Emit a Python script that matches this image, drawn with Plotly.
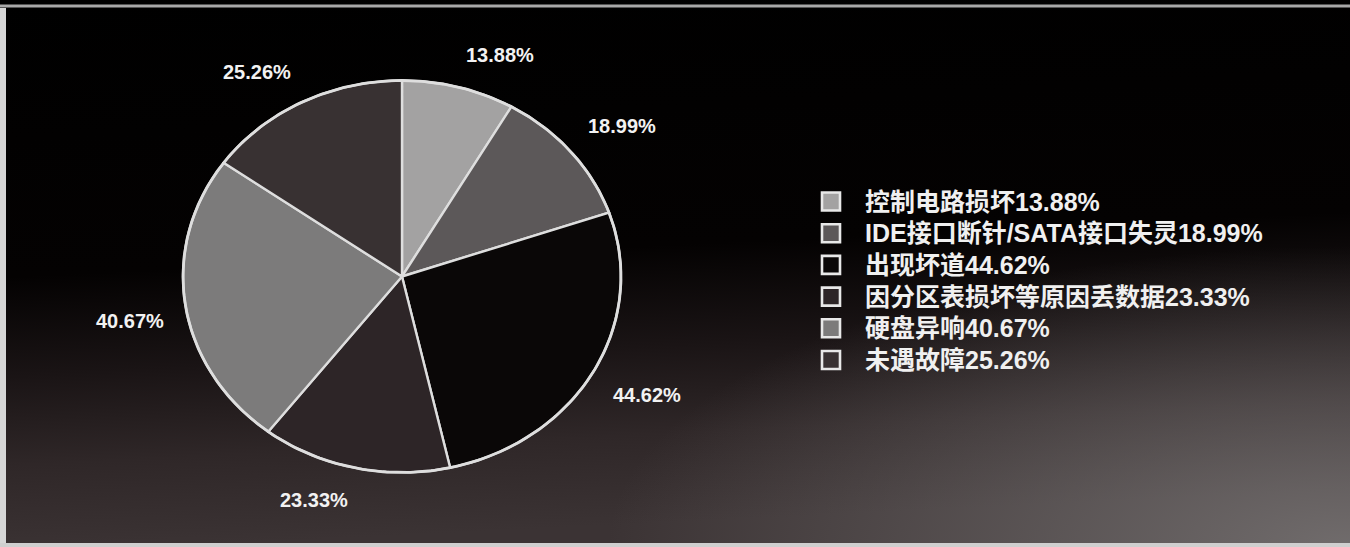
import base64
import numpy as np
import plotly.graph_objects as go

# Survey of hard-disk failure types (multiple answers, so the shares exceed 100%)
categories = ["控制电路损坏", "IDE接口断针/SATA接口失灵", "出现坏道",
              "因分区表损坏等原因丢数据", "硬盘异响", "未遇故障"]
shares = [13.88, 18.99, 44.62, 23.33, 40.67, 25.26]
slice_colors = ["#a3a2a2", "#5c5859", "#0a0707", "#2d2527", "#7c7b7b", "#383132"]

W, H = 1350, 547
CX, CY = 402, 276.5        # pie centre (px)
RX, RY = 219, 196          # slightly stretched pie
EDGE = "#dedede"
LABEL_GAP = 20

# key block on the right
KEY_X, TEXT_X = 831, 863
KEY_Y0, KEY_DY = 201.5, 31.7

LABEL_FONT = dict(family="Liberation Sans, Arial, sans-serif", size=20,
                  color="#f2f2f2", weight="bold")
KEY_FONT = dict(family="Liberation Sans, Noto Sans CJK SC, sans-serif", size=25,
                color="#f0f0f0", weight="bold")

total = float(sum(shares))
bounds = np.concatenate([[0.0], np.cumsum(shares)]) / total * 2 * np.pi

fig = go.Figure()

# wedges, clockwise from 12 o'clock
for i, (name, col) in enumerate(zip(categories, slice_colors)):
    t = np.linspace(bounds[i], bounds[i + 1], 120)
    xs = np.concatenate([[CX], CX + RX * np.sin(t), [CX]])
    ys = np.concatenate([[CY], CY - RY * np.cos(t), [CY]])
    fig.add_trace(go.Scatter(x=xs, y=ys, mode="lines", fill="toself",
                             fillcolor=col, line=dict(color=EDGE, width=2.4),
                             name=name, hoverinfo="skip", showlegend=False))

# outer rim
t = np.linspace(0, 2 * np.pi, 400)
fig.add_trace(go.Scatter(x=CX + RX * np.sin(t), y=CY - RY * np.cos(t), mode="lines",
                         line=dict(color=EDGE, width=2.8), hoverinfo="skip",
                         showlegend=False))

# percentage labels just outside each wedge
for i, v in enumerate(shares):
    m = (bounds[i] + bounds[i + 1]) / 2
    s, c = np.sin(m), np.cos(m)
    ex = CX + RX * s + LABEL_GAP * s
    ey = CY - RY * c - LABEL_GAP * c
    fig.add_annotation(x=ex, y=ey, xref="x", yref="y", text=f"{v:.2f}%",
                       showarrow=False,
                       xanchor="left" if s > 0.05 else ("right" if s < -0.05 else "center"),
                       yanchor="bottom" if c > 0 else "top",
                       font=LABEL_FONT)

# key: swatches plus "name + share" text
key_y = [KEY_Y0 + i * KEY_DY for i in range(len(categories))]
fig.add_trace(go.Scatter(x=[KEY_X] * len(categories), y=key_y, mode="markers",
                         marker=dict(symbol="square", size=18, color=slice_colors,
                                     line=dict(color="#e8e8e8", width=2.6)),
                         hoverinfo="skip", showlegend=False))
for name, v, yy in zip(categories, shares, key_y):
    fig.add_annotation(x=TEXT_X, y=yy, xref="x", yref="y", text=f"{name}{v:.2f}%",
                       showarrow=False, xanchor="left", yanchor="middle", font=KEY_FONT)

# dark backdrop fading to grey-brown towards the bottom
svg = f"""<svg xmlns='http://www.w3.org/2000/svg' width='{W}' height='{H}' viewBox='0 0 {W} {H}' preserveAspectRatio='none'>
<defs>
<linearGradient id='g' x1='0' y1='0' x2='0.12' y2='1'>
<stop offset='0' stop-color='#000000'/>
<stop offset='0.5' stop-color='#040202'/>
<stop offset='0.68' stop-color='#1a1415'/>
<stop offset='0.84' stop-color='#2f2728'/>
<stop offset='1' stop-color='#3b3334'/>
</linearGradient>
<radialGradient id='r' cx='1' cy='1' r='0.55'>
<stop offset='0' stop-color='#7a7676' stop-opacity='0.85'/>
<stop offset='1' stop-color='#7a7676' stop-opacity='0'/>
</radialGradient>
</defs>
<rect width='{W}' height='{H}' fill='url(#g)'/>
<rect width='{W}' height='{H}' fill='url(#r)'/>
</svg>"""
bg = "data:image/svg+xml;base64," + base64.b64encode(svg.encode()).decode()

fig.update_layout(
    width=W, height=H,
    margin=dict(l=0, r=0, t=0, b=0),
    paper_bgcolor="#000000", plot_bgcolor="rgba(0,0,0,0)",
    images=[dict(source=bg, xref="paper", yref="paper", x=0, y=1, sizex=1, sizey=1,
                 sizing="stretch", layer="below")],
    xaxis=dict(range=[0, W], visible=False, fixedrange=True),
    yaxis=dict(range=[H, 0], visible=False, fixedrange=True),
    showlegend=False,
    shapes=[
        dict(type="line", xref="paper", yref="paper", x0=0, x1=1, y0=1 - 6 / H, y1=1 - 6 / H,
             line=dict(color="#a8a8a8", width=3)),
        dict(type="rect", xref="paper", yref="paper", x0=0, x1=6 / W, y0=0, y1=1 - 8 / H,
             line=dict(width=0), fillcolor="#d6d6d6"),
        dict(type="rect", xref="paper", yref="paper", x0=0, x1=1, y0=0, y1=4 / H,
             line=dict(width=0), fillcolor="#cfcfcf"),
    ],
)

fig.write_html("out.html")
